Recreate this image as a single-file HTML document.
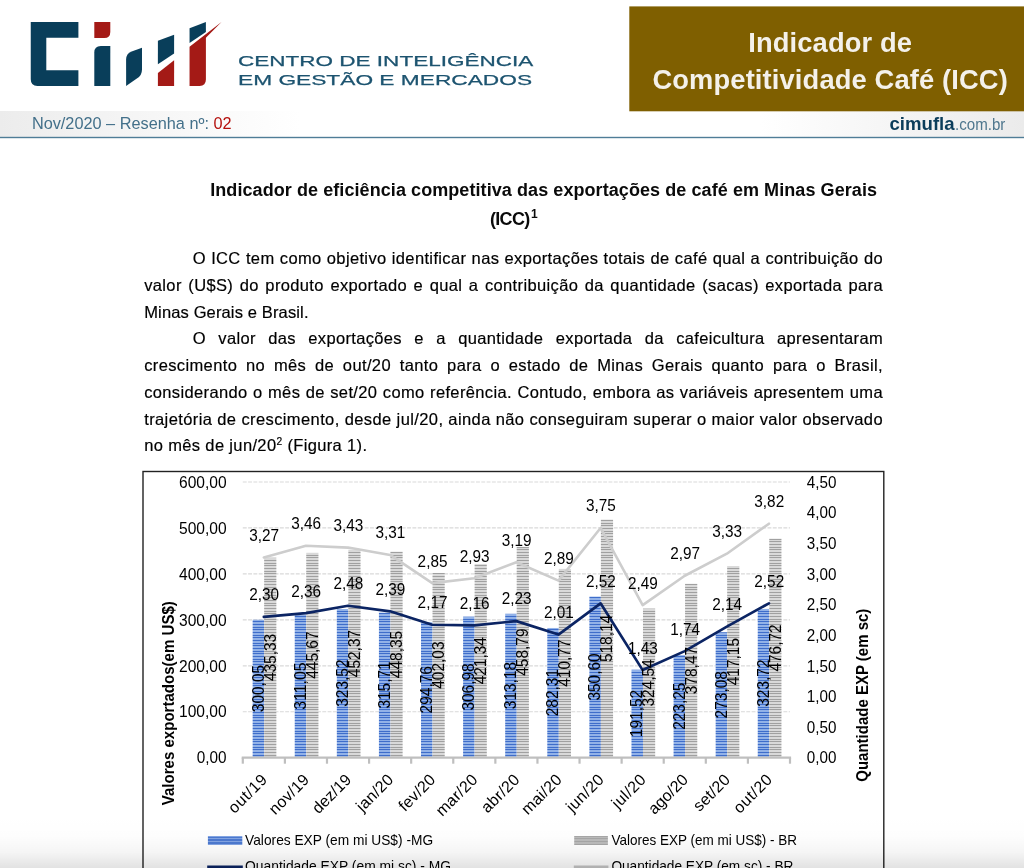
<!DOCTYPE html>
<html lang="pt-BR">
<head>
<meta charset="utf-8">
<title>Indicador de Competitividade Café (ICC)</title>
<style>
html,body{margin:0;padding:0;background:#fff;}
body{width:1024px;height:868px;position:relative;overflow:hidden;font-family:"Liberation Sans",sans-serif;color:#111;}
.logo{position:absolute;left:0;top:0;}
.cim{position:absolute;left:238.3px;white-space:nowrap;font-size:15.4px;line-height:15.4px;color:#1d5470;-webkit-text-stroke:0.25px #1d5470;transform-origin:0 0;transform:scaleX(1.463);}
.brown{position:absolute;left:628.7px;top:5.9px;width:396px;height:104.6px;}
.brown div{position:absolute;left:0;width:100%;text-align:center;color:#f4f1ea;font-weight:bold;font-size:27.3px;letter-spacing:0.14px;line-height:30px;white-space:nowrap;padding-left:7px;box-sizing:border-box;}
.bandl{position:absolute;left:0;top:111px;width:300px;height:26px;background:linear-gradient(to right,#ececec 0,#f4f4f4 40%,#fff 100%);}
.bandr{position:absolute;left:760px;top:111px;width:264px;height:26px;background:linear-gradient(to right,#fff 0,#ebebeb 100%);}
.rule{position:absolute;left:0;top:136px;width:1024px;height:1.4px;background:#557f98;}
.date{position:absolute;left:31.9px;top:112px;font-size:16.3px;line-height:22px;color:#43708a;white-space:nowrap;}
.date b{font-weight:normal;color:#b5120f;}
.site{position:absolute;left:889.5px;top:113px;font-size:18.6px;line-height:22px;color:#4f778e;white-space:nowrap;}
.site span{display:inline-block;font-size:17.4px;transform-origin:0 50%;transform:scaleX(0.868);}
.site b{color:#0b3d5b;}
.ttl{position:absolute;font-weight:bold;font-size:18px;letter-spacing:0.075px;line-height:24px;white-space:nowrap;color:#0a0a0a;}
.ln{position:absolute;font-size:16.5px;line-height:24px;white-space:nowrap;color:#000;-webkit-text-stroke:0.18px #000;}
.ln sup{font-size:62%;vertical-align:baseline;position:relative;top:-6px;}
.ttl sup{font-size:67%;vertical-align:baseline;position:relative;top:-7px;margin-left:1.4px;}
.chart{position:absolute;left:0;top:0;}
.shade{position:absolute;left:0;top:815px;width:1024px;height:53px;background:linear-gradient(to bottom,rgba(0,0,0,0) 0,rgba(0,0,0,0.008) 40%,rgba(0,0,0,0.04) 70%,rgba(0,0,0,0.115) 100%);}
</style>
</head>
<body>
<div class="bandl"></div><div class="bandr"></div>
<svg class="logo" width="1024" height="140" viewBox="0 0 1024 140">
<rect x="629.3" y="6.4" width="400" height="104.9" fill="#7f5f00"/>
<rect x="-2" y="136.8" width="1030" height="1.4" fill="#4f7d97"/>
<path fill="#093e5a" d="M30.75 21.9 H78.4 V37.8 H46.3 V70.2 H78.4 V85.9 H37.4 Q30.75 85.9 30.75 79.2 Z"/>
<path fill="#a41a16" d="M94.3 21.95 H110.3 V31.9 Q110.3 37.9 104.3 37.9 H94.3 Z"/>
<path fill="#093e5a" d="M94.3 52.4 Q94.3 45.9 100.8 45.9 H110.3 V85.9 H94.3 Z"/>
<path fill="#093e5a" d="M142 47.7 L131.6 51.6 Q126.1 53.8 126.1 59.6 V85.9 L137.2 78.3 Q142 75 142 69.4 Z"/>
<path fill="#093e5a" d="M157.9 40.8 L174.1 34.85 V53.4 L157.9 64.3 Z"/>
<path fill="#a41a16" d="M157.9 73.1 L174.1 60.3 V85.9 H157.9 Z"/>
<path fill="#093e5a" d="M189.55 28.2 L205.9 21.9 V32 L189.55 42.9 Z"/>
<path fill="#a41a16" d="M189.55 46.8 L221.5 21.9 L205.9 37.8 V79.6 Q205.9 85.9 199.6 85.9 H189.55 Z"/>
</svg>
<div class="cim" style="top:52.7px;">CENTRO DE INTELIGÊNCIA</div>
<div class="cim" style="top:71.7px;transform:scaleX(1.476);">EM GESTÃO E MERCADOS</div>
<div class="brown"><div style="top:22.3px;">Indicador de</div><div style="top:59.5px;">Competitividade Café (ICC)</div></div>
<div class="date">Nov/2020 – Resenha nº: <b>02</b></div>
<div class="site"><b>cimufla</b><span>.com.br</span></div>
<div class="ttl" style="left:210.2px;top:178.05px;">Indicador de eficiência competitiva das exportações de café em Minas Gerais</div>
<div class="ttl" style="left:489.9px;top:207.2px;letter-spacing:-0.65px;">(ICC)<sup>1</sup></div>
<div class="ln" style="left:192.7px;top:246px;letter-spacing:0.354px;width:690.3px;text-align:justify;text-align-last:justify;">O ICC tem como objetivo identificar nas exportações totais de café qual a contribuição do</div>
<div class="ln" style="left:144.2px;top:273px;letter-spacing:0.36px;width:738.8px;text-align:justify;text-align-last:justify;">valor (U$S) do produto exportado e qual a contribuição da quantidade (sacas) exportada para</div>
<div class="ln" style="left:144.2px;top:300px;letter-spacing:0.14px;">Minas Gerais e Brasil.</div>
<div class="ln" style="left:192.7px;top:326px;letter-spacing:0.342px;width:690.3px;text-align:justify;text-align-last:justify;">O valor das exportações e a quantidade exportada da cafeicultura apresentaram</div>
<div class="ln" style="left:144.2px;top:353px;letter-spacing:0.371px;width:738.8px;text-align:justify;text-align-last:justify;">crescimento no mês de out/20 tanto para o estado de Minas Gerais quanto para o Brasil,</div>
<div class="ln" style="left:144.2px;top:380px;letter-spacing:0.36px;width:738.8px;text-align:justify;text-align-last:justify;">considerando o mês de set/20 como referência. Contudo, embora as variáveis apresentem uma</div>
<div class="ln" style="left:144.2px;top:407px;letter-spacing:0.39px;width:738.8px;text-align:justify;text-align-last:justify;">trajetória de crescimento, desde jul/20, ainda não conseguiram superar o maior valor observado</div>
<div class="ln" style="left:144.2px;top:433px;letter-spacing:0.353px;">no mês de jun/20<sup>2</sup> (Figura 1).</div>
<svg class="chart" width="1024" height="868" viewBox="0 0 1024 868">
<defs>
<pattern id="pb" width="4" height="8" patternUnits="userSpaceOnUse"><rect width="4" height="8" fill="#92b2e8"/><rect y="0" width="4" height="1" fill="#3e6dca"/><rect y="3" width="4" height="1" fill="#3e6dca"/><rect y="5" width="4" height="1" fill="#3e6dca"/></pattern>
<pattern id="pg" width="4" height="8" patternUnits="userSpaceOnUse"><rect width="4" height="8" fill="#d9d9d9"/><rect y="0" width="4" height="1" fill="#a0a0a0"/><rect y="3" width="4" height="1" fill="#a0a0a0"/><rect y="5" width="4" height="1" fill="#a0a0a0"/></pattern>
<pattern id="lb" width="4" height="8" patternUnits="userSpaceOnUse"><rect width="4" height="8" fill="#4c79d0"/><rect y="1" width="4" height="1" fill="#82a4e3"/><rect y="4" width="4" height="1" fill="#82a4e3"/><rect y="6" width="4" height="1" fill="#82a4e3"/></pattern>
<pattern id="lg" width="4" height="8" patternUnits="userSpaceOnUse"><rect width="4" height="8" fill="#bbbbbb"/><rect y="1" width="4" height="1" fill="#a6a6a6"/><rect y="4" width="4" height="1" fill="#a6a6a6"/><rect y="6" width="4" height="1" fill="#a6a6a6"/></pattern>
</defs>
<rect x="143.0" y="471.5" width="740.8" height="420" fill="#fff" stroke="#222" stroke-width="1.4"/>
<line x1="242.8" y1="711.75" x2="790.0" y2="711.75" stroke="#d9d9d9" stroke-width="1.2" stroke-dasharray="3.9 1.4"/>
<line x1="242.8" y1="665.80" x2="790.0" y2="665.80" stroke="#d9d9d9" stroke-width="1.2" stroke-dasharray="3.9 1.4"/>
<line x1="242.8" y1="619.85" x2="790.0" y2="619.85" stroke="#d9d9d9" stroke-width="1.2" stroke-dasharray="3.9 1.4"/>
<line x1="242.8" y1="573.90" x2="790.0" y2="573.90" stroke="#d9d9d9" stroke-width="1.2" stroke-dasharray="3.9 1.4"/>
<line x1="242.8" y1="527.95" x2="790.0" y2="527.95" stroke="#d9d9d9" stroke-width="1.2" stroke-dasharray="3.9 1.4"/>
<line x1="242.8" y1="482.00" x2="790.0" y2="482.00" stroke="#d9d9d9" stroke-width="1.2" stroke-dasharray="3.9 1.4"/>
<rect x="252.65" y="619.83" width="11.5" height="137.87" fill="url(#pb)"/>
<rect x="264.15" y="557.67" width="12.2" height="200.03" fill="url(#pg)"/>
<rect x="294.74" y="614.77" width="11.5" height="142.93" fill="url(#pb)"/>
<rect x="306.24" y="552.91" width="12.2" height="204.79" fill="url(#pg)"/>
<rect x="336.83" y="609.04" width="11.5" height="148.66" fill="url(#pb)"/>
<rect x="348.33" y="549.84" width="12.2" height="207.86" fill="url(#pg)"/>
<rect x="378.92" y="612.63" width="11.5" height="145.07" fill="url(#pb)"/>
<rect x="390.42" y="551.68" width="12.2" height="206.02" fill="url(#pg)"/>
<rect x="421.02" y="622.26" width="11.5" height="135.44" fill="url(#pb)"/>
<rect x="432.52" y="572.97" width="12.2" height="184.73" fill="url(#pg)"/>
<rect x="463.11" y="616.64" width="11.5" height="141.06" fill="url(#pb)"/>
<rect x="474.61" y="564.09" width="12.2" height="193.61" fill="url(#pg)"/>
<rect x="505.20" y="613.79" width="11.5" height="143.91" fill="url(#pb)"/>
<rect x="516.70" y="546.89" width="12.2" height="210.81" fill="url(#pg)"/>
<rect x="547.29" y="627.98" width="11.5" height="129.72" fill="url(#pb)"/>
<rect x="558.79" y="568.95" width="12.2" height="188.75" fill="url(#pg)"/>
<rect x="589.38" y="596.60" width="11.5" height="161.10" fill="url(#pb)"/>
<rect x="600.88" y="519.61" width="12.2" height="238.09" fill="url(#pg)"/>
<rect x="631.48" y="669.70" width="11.5" height="88.00" fill="url(#pb)"/>
<rect x="642.98" y="608.57" width="12.2" height="149.13" fill="url(#pg)"/>
<rect x="673.57" y="655.12" width="11.5" height="102.58" fill="url(#pb)"/>
<rect x="685.07" y="583.79" width="12.2" height="173.91" fill="url(#pg)"/>
<rect x="715.66" y="632.22" width="11.5" height="125.48" fill="url(#pb)"/>
<rect x="727.16" y="566.02" width="12.2" height="191.68" fill="url(#pg)"/>
<rect x="757.75" y="608.95" width="11.5" height="148.75" fill="url(#pb)"/>
<rect x="769.25" y="538.65" width="12.2" height="219.05" fill="url(#pg)"/>
<line x1="241.70000000000002" y1="757.7" x2="791.1" y2="757.7" stroke="#bfbfbf" stroke-width="2.2"/>
<line x1="242.80" y1="757.7" x2="242.80" y2="763.7" stroke="#bfbfbf" stroke-width="2.2"/>
<line x1="284.89" y1="757.7" x2="284.89" y2="763.7" stroke="#bfbfbf" stroke-width="2.2"/>
<line x1="326.98" y1="757.7" x2="326.98" y2="763.7" stroke="#bfbfbf" stroke-width="2.2"/>
<line x1="369.08" y1="757.7" x2="369.08" y2="763.7" stroke="#bfbfbf" stroke-width="2.2"/>
<line x1="411.17" y1="757.7" x2="411.17" y2="763.7" stroke="#bfbfbf" stroke-width="2.2"/>
<line x1="453.26" y1="757.7" x2="453.26" y2="763.7" stroke="#bfbfbf" stroke-width="2.2"/>
<line x1="495.35" y1="757.7" x2="495.35" y2="763.7" stroke="#bfbfbf" stroke-width="2.2"/>
<line x1="537.45" y1="757.7" x2="537.45" y2="763.7" stroke="#bfbfbf" stroke-width="2.2"/>
<line x1="579.54" y1="757.7" x2="579.54" y2="763.7" stroke="#bfbfbf" stroke-width="2.2"/>
<line x1="621.63" y1="757.7" x2="621.63" y2="763.7" stroke="#bfbfbf" stroke-width="2.2"/>
<line x1="663.72" y1="757.7" x2="663.72" y2="763.7" stroke="#bfbfbf" stroke-width="2.2"/>
<line x1="705.82" y1="757.7" x2="705.82" y2="763.7" stroke="#bfbfbf" stroke-width="2.2"/>
<line x1="747.91" y1="757.7" x2="747.91" y2="763.7" stroke="#bfbfbf" stroke-width="2.2"/>
<line x1="790.00" y1="757.7" x2="790.00" y2="763.7" stroke="#bfbfbf" stroke-width="2.2"/>
<polyline points="263.85,557.38 305.94,545.74 348.03,547.58 390.12,554.93 432.22,583.11 474.31,578.21 516.40,562.28 558.49,580.66 600.58,527.98 642.68,605.16 684.77,575.76 726.86,553.70 768.95,523.69" fill="none" stroke="#cdcdcd" stroke-width="2.6" stroke-linejoin="round" stroke-linecap="round"/>
<polyline points="263.85,616.80 305.94,613.13 348.03,605.78 390.12,611.29 432.22,624.77 474.31,625.38 516.40,621.09 558.49,634.57 600.58,603.32 642.68,670.10 684.77,651.11 726.86,626.60 768.95,603.32" fill="none" stroke="#0b2463" stroke-width="2.7" stroke-linejoin="round" stroke-linecap="round"/>
<g font-family="'Liberation Sans', sans-serif" fill="#000" font-size="16">
<text x="226.6" y="763.40" text-anchor="end" textLength="29.8" lengthAdjust="spacingAndGlyphs">0,00</text>
<text x="226.6" y="717.45" text-anchor="end" textLength="47.6" lengthAdjust="spacingAndGlyphs">100,00</text>
<text x="226.6" y="671.50" text-anchor="end" textLength="47.6" lengthAdjust="spacingAndGlyphs">200,00</text>
<text x="226.6" y="625.55" text-anchor="end" textLength="47.6" lengthAdjust="spacingAndGlyphs">300,00</text>
<text x="226.6" y="579.60" text-anchor="end" textLength="47.6" lengthAdjust="spacingAndGlyphs">400,00</text>
<text x="226.6" y="533.65" text-anchor="end" textLength="47.6" lengthAdjust="spacingAndGlyphs">500,00</text>
<text x="226.6" y="487.70" text-anchor="end" textLength="47.6" lengthAdjust="spacingAndGlyphs">600,00</text>
<text x="806.8" y="763.40" textLength="29.6" lengthAdjust="spacingAndGlyphs">0,00</text>
<text x="806.8" y="732.77" textLength="29.6" lengthAdjust="spacingAndGlyphs">0,50</text>
<text x="806.8" y="702.14" textLength="29.6" lengthAdjust="spacingAndGlyphs">1,00</text>
<text x="806.8" y="671.51" textLength="29.6" lengthAdjust="spacingAndGlyphs">1,50</text>
<text x="806.8" y="640.88" textLength="29.6" lengthAdjust="spacingAndGlyphs">2,00</text>
<text x="806.8" y="610.25" textLength="29.6" lengthAdjust="spacingAndGlyphs">2,50</text>
<text x="806.8" y="579.62" textLength="29.6" lengthAdjust="spacingAndGlyphs">3,00</text>
<text x="806.8" y="548.99" textLength="29.6" lengthAdjust="spacingAndGlyphs">3,50</text>
<text x="806.8" y="518.36" textLength="29.6" lengthAdjust="spacingAndGlyphs">4,00</text>
<text x="806.8" y="487.73" textLength="29.6" lengthAdjust="spacingAndGlyphs">4,50</text>
<text transform="translate(263.65,688.56) rotate(-90)" text-anchor="middle" textLength="47.3" lengthAdjust="spacingAndGlyphs">300,05</text>
<text transform="translate(275.65,657.48) rotate(-90)" text-anchor="middle" textLength="47.3" lengthAdjust="spacingAndGlyphs">435,33</text>
<text transform="translate(305.74,686.04) rotate(-90)" text-anchor="middle" textLength="47.3" lengthAdjust="spacingAndGlyphs">311,05</text>
<text transform="translate(317.74,655.11) rotate(-90)" text-anchor="middle" textLength="47.3" lengthAdjust="spacingAndGlyphs">445,67</text>
<text transform="translate(347.83,683.17) rotate(-90)" text-anchor="middle" textLength="47.3" lengthAdjust="spacingAndGlyphs">323,52</text>
<text transform="translate(359.83,653.57) rotate(-90)" text-anchor="middle" textLength="47.3" lengthAdjust="spacingAndGlyphs">452,37</text>
<text transform="translate(389.92,684.97) rotate(-90)" text-anchor="middle" textLength="47.3" lengthAdjust="spacingAndGlyphs">315,71</text>
<text transform="translate(401.92,654.49) rotate(-90)" text-anchor="middle" textLength="47.3" lengthAdjust="spacingAndGlyphs">448,35</text>
<text transform="translate(432.02,689.78) rotate(-90)" text-anchor="middle" textLength="47.3" lengthAdjust="spacingAndGlyphs">294,76</text>
<text transform="translate(444.02,665.13) rotate(-90)" text-anchor="middle" textLength="47.3" lengthAdjust="spacingAndGlyphs">402,03</text>
<text transform="translate(474.11,686.97) rotate(-90)" text-anchor="middle" textLength="47.3" lengthAdjust="spacingAndGlyphs">306,98</text>
<text transform="translate(486.11,660.70) rotate(-90)" text-anchor="middle" textLength="47.3" lengthAdjust="spacingAndGlyphs">421,34</text>
<text transform="translate(516.20,685.55) rotate(-90)" text-anchor="middle" textLength="47.3" lengthAdjust="spacingAndGlyphs">313,18</text>
<text transform="translate(528.20,652.09) rotate(-90)" text-anchor="middle" textLength="47.3" lengthAdjust="spacingAndGlyphs">458,79</text>
<text transform="translate(558.29,692.64) rotate(-90)" text-anchor="middle" textLength="47.3" lengthAdjust="spacingAndGlyphs">282,31</text>
<text transform="translate(570.29,663.13) rotate(-90)" text-anchor="middle" textLength="47.3" lengthAdjust="spacingAndGlyphs">410,77</text>
<text transform="translate(600.38,676.95) rotate(-90)" text-anchor="middle" textLength="47.3" lengthAdjust="spacingAndGlyphs">350,60</text>
<text transform="translate(612.38,638.46) rotate(-90)" text-anchor="middle" textLength="47.3" lengthAdjust="spacingAndGlyphs">518,14</text>
<text transform="translate(642.48,713.50) rotate(-90)" text-anchor="middle" textLength="47.3" lengthAdjust="spacingAndGlyphs">191,52</text>
<text transform="translate(654.48,682.94) rotate(-90)" text-anchor="middle" textLength="47.3" lengthAdjust="spacingAndGlyphs">324,54</text>
<text transform="translate(684.57,706.21) rotate(-90)" text-anchor="middle" textLength="47.3" lengthAdjust="spacingAndGlyphs">223,25</text>
<text transform="translate(696.57,670.55) rotate(-90)" text-anchor="middle" textLength="47.3" lengthAdjust="spacingAndGlyphs">378,47</text>
<text transform="translate(726.66,694.76) rotate(-90)" text-anchor="middle" textLength="47.3" lengthAdjust="spacingAndGlyphs">273,08</text>
<text transform="translate(738.66,661.66) rotate(-90)" text-anchor="middle" textLength="47.3" lengthAdjust="spacingAndGlyphs">417,15</text>
<text transform="translate(768.75,683.13) rotate(-90)" text-anchor="middle" textLength="47.3" lengthAdjust="spacingAndGlyphs">323,72</text>
<text transform="translate(780.75,647.97) rotate(-90)" text-anchor="middle" textLength="47.3" lengthAdjust="spacingAndGlyphs">476,72</text>
<text x="264.15" y="600.20" text-anchor="middle" textLength="29.8" lengthAdjust="spacingAndGlyphs">2,30</text>
<text x="264.15" y="540.78" text-anchor="middle" textLength="29.8" lengthAdjust="spacingAndGlyphs">3,27</text>
<text x="306.24" y="596.53" text-anchor="middle" textLength="29.8" lengthAdjust="spacingAndGlyphs">2,36</text>
<text x="306.24" y="529.14" text-anchor="middle" textLength="29.8" lengthAdjust="spacingAndGlyphs">3,46</text>
<text x="348.33" y="589.18" text-anchor="middle" textLength="29.8" lengthAdjust="spacingAndGlyphs">2,48</text>
<text x="348.33" y="530.98" text-anchor="middle" textLength="29.8" lengthAdjust="spacingAndGlyphs">3,43</text>
<text x="390.42" y="594.69" text-anchor="middle" textLength="29.8" lengthAdjust="spacingAndGlyphs">2,39</text>
<text x="390.42" y="538.33" text-anchor="middle" textLength="29.8" lengthAdjust="spacingAndGlyphs">3,31</text>
<text x="432.52" y="608.17" text-anchor="middle" textLength="29.8" lengthAdjust="spacingAndGlyphs">2,17</text>
<text x="432.52" y="566.51" text-anchor="middle" textLength="29.8" lengthAdjust="spacingAndGlyphs">2,85</text>
<text x="474.61" y="608.78" text-anchor="middle" textLength="29.8" lengthAdjust="spacingAndGlyphs">2,16</text>
<text x="474.61" y="561.61" text-anchor="middle" textLength="29.8" lengthAdjust="spacingAndGlyphs">2,93</text>
<text x="516.70" y="604.49" text-anchor="middle" textLength="29.8" lengthAdjust="spacingAndGlyphs">2,23</text>
<text x="516.70" y="545.68" text-anchor="middle" textLength="29.8" lengthAdjust="spacingAndGlyphs">3,19</text>
<text x="558.79" y="617.97" text-anchor="middle" textLength="29.8" lengthAdjust="spacingAndGlyphs">2,01</text>
<text x="558.79" y="564.06" text-anchor="middle" textLength="29.8" lengthAdjust="spacingAndGlyphs">2,89</text>
<text x="600.88" y="586.72" text-anchor="middle" textLength="29.8" lengthAdjust="spacingAndGlyphs">2,52</text>
<text x="600.88" y="511.38" text-anchor="middle" textLength="29.8" lengthAdjust="spacingAndGlyphs">3,75</text>
<text x="642.98" y="653.50" text-anchor="middle" textLength="29.8" lengthAdjust="spacingAndGlyphs">1,43</text>
<text x="642.98" y="588.56" text-anchor="middle" textLength="29.8" lengthAdjust="spacingAndGlyphs">2,49</text>
<text x="685.07" y="634.51" text-anchor="middle" textLength="29.8" lengthAdjust="spacingAndGlyphs">1,74</text>
<text x="685.07" y="559.16" text-anchor="middle" textLength="29.8" lengthAdjust="spacingAndGlyphs">2,97</text>
<text x="727.16" y="610.00" text-anchor="middle" textLength="29.8" lengthAdjust="spacingAndGlyphs">2,14</text>
<text x="727.16" y="537.10" text-anchor="middle" textLength="29.8" lengthAdjust="spacingAndGlyphs">3,33</text>
<text x="769.25" y="586.72" text-anchor="middle" textLength="29.8" lengthAdjust="spacingAndGlyphs">2,52</text>
<text x="769.25" y="507.09" text-anchor="middle" textLength="29.8" lengthAdjust="spacingAndGlyphs">3,82</text>
<text transform="translate(268.05,780.70) rotate(-45)" text-anchor="end" textLength="47.4" lengthAdjust="spacing">out/19</text>
<text transform="translate(310.14,780.70) rotate(-45)" text-anchor="end" textLength="49.3" lengthAdjust="spacing">nov/19</text>
<text transform="translate(352.23,780.70) rotate(-45)" text-anchor="end" textLength="47.7" lengthAdjust="spacing">dez/19</text>
<text transform="translate(394.32,780.70) rotate(-45)" text-anchor="end" textLength="44.9" lengthAdjust="spacing">jan/20</text>
<text transform="translate(436.42,780.70) rotate(-45)" text-anchor="end" textLength="44.6" lengthAdjust="spacing">fev/20</text>
<text transform="translate(478.51,780.70) rotate(-45)" text-anchor="end" textLength="51.4" lengthAdjust="spacing">mar/20</text>
<text transform="translate(520.60,780.70) rotate(-45)" text-anchor="end" textLength="46.8" lengthAdjust="spacing">abr/20</text>
<text transform="translate(562.69,780.70) rotate(-45)" text-anchor="end" textLength="49.4" lengthAdjust="spacing">mai/20</text>
<text transform="translate(604.78,780.70) rotate(-45)" text-anchor="end" textLength="45.7" lengthAdjust="spacing">jun/20</text>
<text transform="translate(646.88,780.70) rotate(-45)" text-anchor="end" textLength="40.7" lengthAdjust="spacing">jul/20</text>
<text transform="translate(688.97,780.70) rotate(-45)" text-anchor="end" textLength="48.8" lengthAdjust="spacing">ago/20</text>
<text transform="translate(731.06,780.70) rotate(-45)" text-anchor="end" textLength="44.5" lengthAdjust="spacing">set/20</text>
<text transform="translate(773.15,780.70) rotate(-45)" text-anchor="end" textLength="47.4" lengthAdjust="spacing">out/20</text>
</g>
<g font-family="'Liberation Sans', sans-serif" fill="#000" font-size="16" font-weight="bold">
<text transform="translate(174.2,703.2) rotate(-90)" text-anchor="middle" textLength="204" lengthAdjust="spacingAndGlyphs">Valores exportados(em US$)</text>
<text transform="translate(867.9,695.2) rotate(-90)" text-anchor="middle" textLength="173" lengthAdjust="spacingAndGlyphs">Quantidade EXP (em sc)</text>
</g>
<g font-family="'Liberation Sans', sans-serif" fill="#000" font-size="14.3">
<rect x="207.9" y="836" width="34.4" height="9" fill="url(#lb)"/>
<text x="245.1" y="844.8" textLength="188" lengthAdjust="spacingAndGlyphs">Valores EXP (em mi US$) -MG</text>
<rect x="574.2" y="836" width="33.7" height="9" fill="url(#lg)"/>
<text x="611.4" y="844.8" textLength="185.6" lengthAdjust="spacingAndGlyphs">Valores EXP (em mi US$) - BR</text>
<line x1="207.2" y1="866.9" x2="242.8" y2="866.9" stroke="#0b2463" stroke-width="2.9"/>
<text x="245.1" y="871.2" textLength="206" lengthAdjust="spacingAndGlyphs">Quantidade EXP (em mi sc) - MG</text>
<line x1="573.8" y1="866.9" x2="608.4" y2="866.9" stroke="#c6c6c6" stroke-width="2.9"/>
<text x="611.4" y="871.2" textLength="182" lengthAdjust="spacingAndGlyphs">Quantidade EXP (em sc) - BR</text>
</g>
</svg>
<div class="shade"></div>
</body>
</html>
